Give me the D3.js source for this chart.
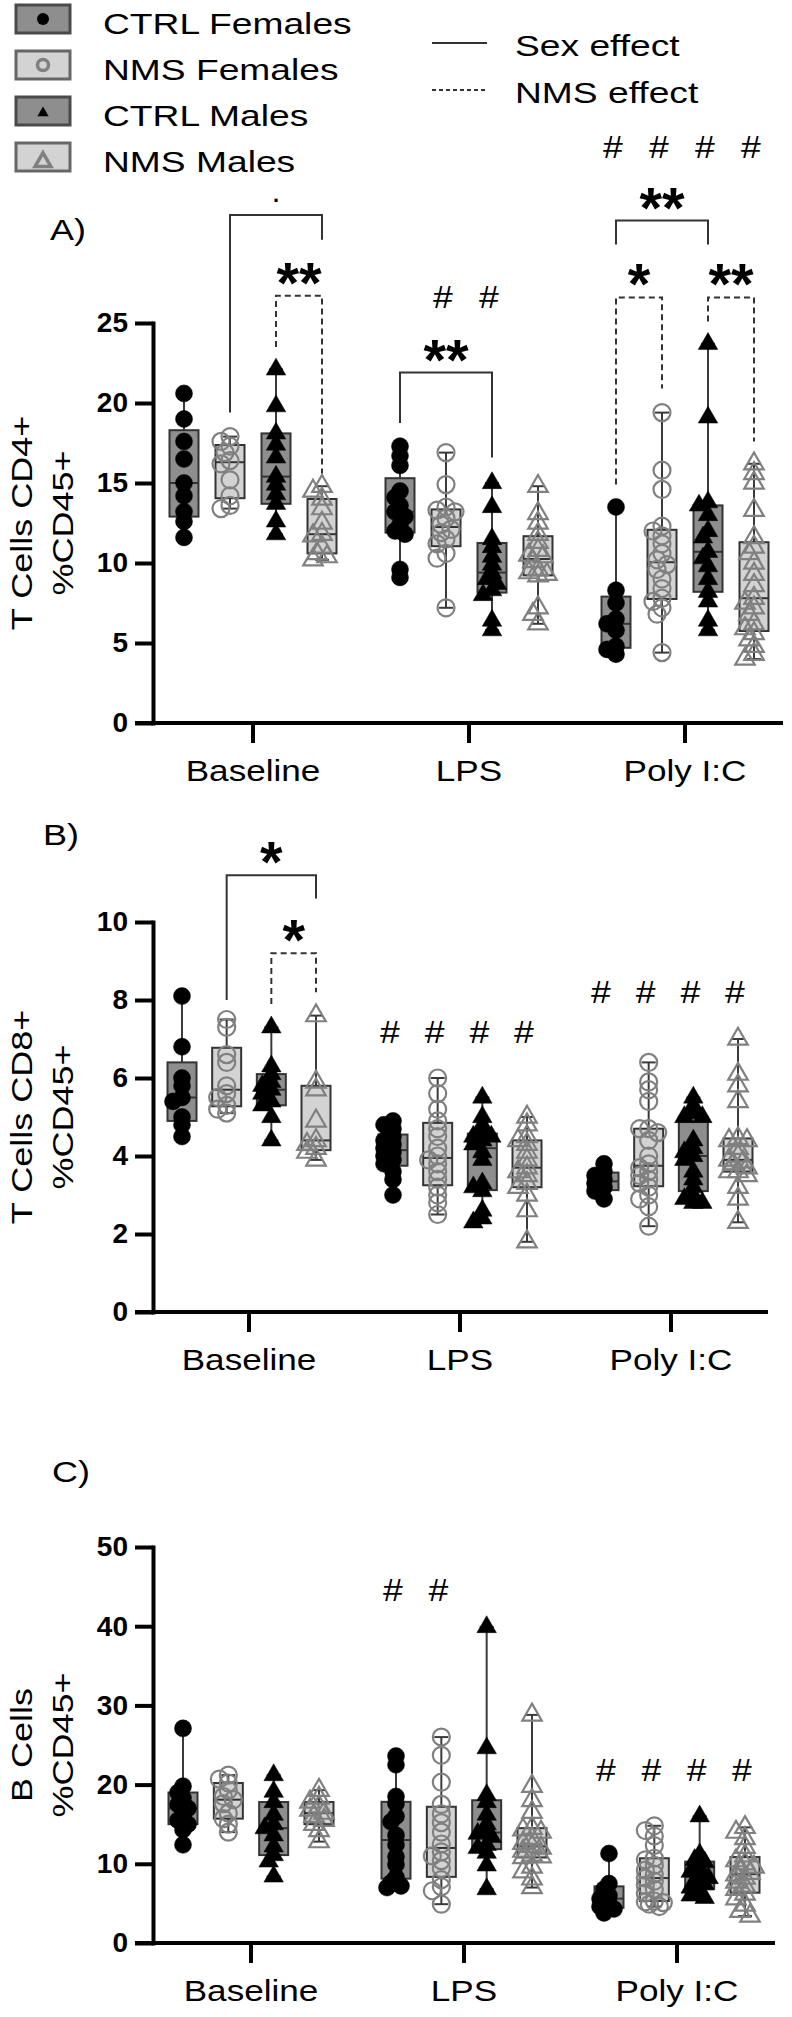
<!DOCTYPE html>
<html>
<head>
<meta charset="utf-8">
<script src="https://cdn.jsdelivr.net/npm/d3@7"></script>
<style>
  body { margin: 0; background: #fff; }
  svg { display: block; font-family: "Liberation Sans", Arial, sans-serif; }
</style>
</head>
<body>
<svg id="chart"></svg>
<script>
var categories = ["Baseline", "LPS", "Poly I:C"];
var groups = ["CTRL Females", "NMS Females", "CTRL Males", "NMS Males"];

// A) T cells CD4+ (%CD45+), one array per group: CTRL F, NMS F, CTRL M, NMS M
var cd4Baseline = [
  [20.6, 19.0, 17.6, 16.5, 15.0, 14.2, 13.2, 12.6, 11.6],
  [17.9, 17.6, 17.3, 16.9, 16.4, 16.2, 15.2, 14.2, 13.6, 13.4],
  [22.1, 19.8, 18.1, 17.4, 16.6, 15.4, 14.9, 14.3, 13.7, 12.6, 11.8],
  [14.8, 14.5, 14.0, 13.4, 12.5, 11.8, 11.7, 11.0, 10.6, 10.4, 10.2]
];
var cd4LPS = [
  [17.3, 16.7, 16.1, 14.5, 14.1, 13.6, 13.2, 12.9, 12.4, 12.0, 11.8, 9.6, 9.1],
  [16.9, 14.9, 13.5, 13.3, 13.2, 12.8, 12.4, 12.1, 11.9, 11.5, 11.2, 10.6, 10.3, 7.2],
  [15.0, 13.5, 11.5, 11.0, 10.4, 9.9, 9.4, 9.0, 8.7, 8.3, 8.0, 6.4, 5.8],
  [14.8, 13.1, 12.5, 11.8, 11.3, 10.8, 10.5, 10.4, 10.1, 9.6, 9.4, 9.3, 9.2, 7.2, 6.8, 6.2]
];
var cd4PolyIC = [
  [13.5, 8.3, 7.5, 6.5, 6.2, 5.8, 4.8, 4.6, 4.3],
  [19.4, 15.8, 14.6, 12.3, 12.0, 11.7, 11.2, 10.6, 10.2, 9.9, 9.6, 9.0, 8.4, 7.8, 7.6, 7.2, 6.8, 4.4],
  [23.7, 19.1, 13.8, 13.6, 13.0, 12.0, 11.6, 10.7, 10.3, 9.8, 9.0, 8.2, 7.6, 6.4, 5.8],
  [16.2, 15.6, 15.0, 13.3, 11.6, 11.0, 10.6, 10.0, 9.3, 8.6, 7.8, 7.5, 7.2, 6.8, 6.2, 5.9, 5.6, 5.2, 4.8, 4.3, 4.0]
];

// B) T cells CD8+ (%CD45+)
var cd8Baseline = [
  [8.1, 6.8, 6.0, 5.8, 5.5, 5.4, 5.0, 4.8, 4.5],
  [7.5, 7.3, 6.6, 6.4, 5.8, 5.6, 5.5, 5.3, 5.2, 5.1],
  [7.3, 6.3, 6.1, 5.9, 5.8, 5.7, 5.6, 5.4, 5.3, 5.0, 4.4],
  [7.6, 5.9, 5.7, 4.9, 4.4, 4.3, 4.2, 4.1, 3.9]
];
var cd8LPS = [
  [4.9, 4.8, 4.7, 4.5, 4.4, 4.3, 4.2, 4.1, 4.0, 3.9, 3.8, 3.6, 3.4, 3.0],
  [6.0, 5.6, 5.2, 4.9, 4.7, 4.5, 4.2, 4.0, 3.9, 3.8, 3.6, 3.4, 3.2, 3.0, 2.8, 2.5],
  [5.5, 5.0, 4.8, 4.6, 4.5, 4.5, 4.4, 4.3, 4.1, 3.9, 3.3, 3.2, 3.1, 2.6, 2.4, 2.3],
  [5.0, 4.8, 4.5, 4.4, 4.3, 4.1, 3.9, 3.7, 3.6, 3.5, 3.3, 3.2, 3.0, 2.6, 1.8]
];
var cd8PolyIC = [
  [3.8, 3.6, 3.5, 3.4, 3.3, 3.2, 3.1, 2.9],
  [6.4, 5.9, 5.7, 5.4, 4.7, 4.7, 4.6, 4.4, 4.0, 3.8, 3.7, 3.6, 3.5, 3.4, 3.3, 3.2, 3.0, 2.9, 2.7, 2.2],
  [5.5, 5.3, 5.1, 5.0, 5.0, 4.4, 4.2, 4.1, 4.0, 3.9, 3.6, 3.4, 3.2, 3.0, 2.9, 2.8, 2.8],
  [7.0, 6.1, 5.8, 5.4, 4.45, 4.4, 4.4, 4.2, 4.0, 3.9, 3.85, 3.8, 3.7, 3.6, 3.6, 3.5, 3.2, 2.9, 2.3]
];

// C) B cells (%CD45+)
var bBaseline = [
  [27.1, 19.8, 19.0, 18.3, 17.5, 17.0, 16.2, 15.5, 15.0, 14.3, 12.4],
  [21.2, 20.7, 20.2, 19.3, 18.5, 18.1, 17.6, 16.4, 15.7, 15.0, 14.0],
  [21.2, 19.1, 17.8, 16.2, 15.0, 14.5, 13.6, 12.2, 11.1, 10.3, 8.4],
  [19.3, 18.3, 17.8, 17.2, 16.8, 16.4, 16.0, 15.5, 15.0, 14.2, 12.8]
];
var bLPS = [
  [23.6, 22.5, 18.5, 17.6, 16.0, 15.3, 13.6, 12.4, 10.9, 9.9, 8.3, 7.6, 7.2, 7.0],
  [26.0, 23.7, 20.3, 17.5, 16.3, 15.2, 14.0, 12.5, 11.5, 11.0, 10.4, 9.4, 8.0, 7.1, 6.6, 4.9],
  [39.9, 24.6, 18.7, 17.8, 16.2, 15.0, 14.1, 13.8, 13.4, 12.4, 12.0, 11.4, 9.8, 6.8],
  [28.8, 19.8, 18.0, 16.5, 14.5, 14.3, 14.0, 13.2, 12.6, 12.2, 12.0, 11.6, 11.1, 10.9, 10.8, 9.6, 9.0, 8.1, 7.0]
];
var bPolyIC = [
  [11.3, 7.5, 6.8, 6.0, 5.6, 5.0, 4.6, 4.3, 3.8],
  [14.8, 14.2, 13.5, 12.3, 10.7, 10.5, 9.8, 9.2, 8.7, 8.2, 7.8, 7.3, 6.8, 6.3, 5.3, 5.2, 5.1, 4.9, 4.6],
  [16.0, 11.2, 10.5, 10.2, 9.5, 9.0, 8.6, 8.2, 7.8, 7.4, 7.0, 6.5, 6.0, 5.7],
  [14.6, 14.0, 13.2, 12.1, 11.0, 10.4, 10.0, 9.6, 9.2, 8.8, 8.6, 8.2, 7.7, 7.2, 6.8, 6.2, 5.6, 4.8, 4.0, 3.4]
];

var yTicksA = [0, 5, 10, 15, 20, 25];
var yTicksB = [0, 2, 4, 6, 8, 10];
var yTicksC = [0, 10, 20, 30, 40, 50];

// significance brackets (group indexes, heights in data units)
var sigA = [
  { cat: "Baseline", from: 1, to: 3, top: 31.75, left: 19.4, right: 30.2, dashed: false, label: "." },
  { cat: "Baseline", from: 2, to: 3, top: 26.7, left: 23.5, right: 15.6, dashed: true, label: "**" },
  { cat: "LPS", from: 0, to: 2, top: 21.9, left: 18.75, right: 16.6, dashed: false, label: "**" },
  { cat: "Poly I:C", from: 0, to: 2, top: 31.4, left: 29.9, right: 29.9, dashed: false, label: "**" },
  { cat: "Poly I:C", from: 0, to: 1, top: 26.6, left: 14.9, right: 20.9, dashed: true, label: "*" },
  { cat: "Poly I:C", from: 2, to: 3, top: 26.6, left: 25.1, right: 17.6, dashed: true, label: "**" }
];
var sigB = [
  { cat: "Baseline", from: 1, to: 3, top: 11.2, left: 8.0, right: 10.6, dashed: false, label: "*" },
  { cat: "Baseline", from: 2, to: 3, top: 9.2, left: 7.9, right: 8.2, dashed: true, label: "*" }
];
var sigC = [];

// "#" marks (vs baseline)
var hashA = [{ cat: "LPS", idx: [1, 2], at: 26.6 }, { cat: "Poly I:C", idx: [0, 1, 2, 3], at: 36 }];
var hashB = [{ cat: "LPS", idx: [0, 1, 2, 3], at: 7.18 }, { cat: "Poly I:C", idx: [0, 1, 2, 3], at: 8.2 }];
var hashC = [{ cat: "LPS", idx: [0, 1], at: 44.6 }, { cat: "Poly I:C", idx: [0, 1, 2, 3], at: 21.8 }];

var W = 792, H = 2017;
var boxFill = ["#8e8e8e", "#d3d3d3", "#8e8e8e", "#d3d3d3"];
var markFill = ["#000", "none", "#000", "none"];
var markStroke = ["#000", "#808080", "#000", "#808080"];

var panels = [
  { letter: "A)", letterX: 50, letterY: 240, title: ["T Cells CD4+", "%CD45+"],
    data: [cd4Baseline, cd4LPS, cd4PolyIC], ticks: yTicksA, ymax: 25,
    yRange: [723, 323], xRange: [145, 793], off: 69, axisEnd: 783, sig: sigA, hash: hashA },
  { letter: "B)", letterX: 43, letterY: 845, title: ["T Cells CD8+", "%CD45+"],
    data: [cd8Baseline, cd8LPS, cd8PolyIC], ticks: yTicksB, ymax: 10,
    yRange: [1312, 922], xRange: [143.5, 776.5], off: 67, axisEnd: 768, sig: sigB, hash: hashB },
  { letter: "C)", letterX: 52, letterY: 1482, title: ["B Cells", "%CD45+"],
    data: [bBaseline, bLPS, bPolyIC], ticks: yTicksC, ymax: 50,
    yRange: [1943, 1547], xRange: [144.5, 783.5], off: 68, axisEnd: 775, sig: sigC, hash: hashC }
];

var axisX = 153, tickLen = 18, boxW = 29, capW = 14, r = 8.5;
var wide = 1.2; // the figure's text runs wide

var svg = d3.select("#chart").attr("width", W).attr("height", H);
svg.append("rect").attr("width", W).attr("height", H).attr("fill", "#fff");

// quartiles the way Prism does them: position (n+1)p
function quant(sorted, p) {
  var h = (sorted.length + 1) * p - 1;
  h = Math.max(0, Math.min(sorted.length - 1, h));
  var lo = Math.floor(h), hi = Math.min(lo + 1, sorted.length - 1);
  return sorted[lo] + (h - lo) * (sorted[hi] - sorted[lo]);
}

// keep points in a narrow column, nudging overlapping ones sideways
function swarm(vals, y) {
  var placed = [];
  return vals.map(function(v) {
    var py = y(v), cands = [0, -5, 5, -9, 9], best = 0, bestD = -1;
    for (var i = 0; i < cands.length; i++) {
      var d = Infinity;
      placed.forEach(function(p) { d = Math.min(d, Math.hypot(p.dx - cands[i], p.py - py)); });
      if (d >= 7) { best = cands[i]; break; }
      if (d > bestD) { bestD = d; best = cands[i]; }
    }
    placed.push({ dx: best, py: py });
    return { v: v, dx: best };
  });
}

function wideText(parent, x, y, size, str, sx) {
  return parent.append("text")
    .attr("transform", "translate(" + x + "," + y + ") scale(" + (sx || wide) + ",1)")
    .attr("font-size", size).text(str);
}

var triangle = d3.symbol(d3.symbolTriangle, 165);

function marker(sel, gi) {
  var m = gi < 2 ? sel.append("circle").attr("r", r) : sel.append("path").attr("d", triangle());
  m.attr("fill", markFill[gi]).attr("stroke", markStroke[gi])
   .attr("stroke-width", gi % 2 === 1 ? 2.2 : 0.5);
  return m;
}

panels.forEach(function(P) {
  var y = d3.scaleLinear().domain([0, P.ymax]).range(P.yRange);
  var x = d3.scaleBand().domain(categories).range(P.xRange);
  var sub = d3.scalePoint().domain(d3.range(groups.length)).range([-P.off, P.off]);
  var cx = function(cat, gi) { return x(cat) + x.bandwidth() / 2 + sub(gi); };
  var g = svg.append("g");

  // panel letter and y title
  wideText(g, P.letterX, P.letterY, 30, P.letter);
  var midY = (P.yRange[0] + P.yRange[1]) / 2;
  P.title.forEach(function(t, i) {
    g.append("text")
      .attr("transform", "translate(" + (22 + i * 41) + "," + midY + ") rotate(-90) scale(" + wide + ",1)")
      .attr("text-anchor", "middle").attr("dominant-baseline", "central")
      .attr("font-size", 30).text(t);
  });

  // boxes, whiskers, points
  categories.forEach(function(cat, ci) {
    P.data[ci].forEach(function(vals, gi) {
      var s = vals.slice().sort(d3.ascending);
      var q1 = quant(s, 0.25), med = quant(s, 0.5), q3 = quant(s, 0.75);
      var lo = s[0], hi = s[s.length - 1];
      var c = cx(cat, gi);
      var bg = g.append("g");
      bg.append("line").attr("x1", c).attr("x2", c).attr("y1", y(hi)).attr("y2", y(lo))
        .attr("stroke", "#3a3a3a").attr("stroke-width", 2);
      [lo, hi].forEach(function(v) {
        bg.append("line").attr("x1", c - capW / 2).attr("x2", c + capW / 2)
          .attr("y1", y(v)).attr("y2", y(v)).attr("stroke", "#3a3a3a").attr("stroke-width", 2);
      });
      bg.append("rect").attr("x", c - boxW / 2).attr("width", boxW)
        .attr("y", y(q3)).attr("height", y(q1) - y(q3))
        .attr("fill", boxFill[gi]).attr("stroke", "#333").attr("stroke-width", 2);
      bg.append("line").attr("x1", c - boxW / 2).attr("x2", c + boxW / 2)
        .attr("y1", y(med)).attr("y2", y(med)).attr("stroke", "#333").attr("stroke-width", 2);

      swarm(vals, y).forEach(function(p) {
        marker(bg.append("g").attr("transform", "translate(" + (c + p.dx) + "," + y(p.v) + ")"), gi);
      });
    });
  });

  // y axis
  var yAxis = g.append("g").attr("transform", "translate(" + axisX + ",0)")
    .call(d3.axisLeft(y).tickValues(P.ticks).tickSize(tickLen).tickSizeOuter(0).tickPadding(7));
  yAxis.select(".domain").attr("stroke-width", 4).attr("stroke-linecap", "square");
  yAxis.selectAll(".tick line").attr("stroke-width", 4);
  yAxis.selectAll(".tick text").attr("font-size", 28).attr("font-weight", "bold")
    .attr("font-family", "'Liberation Sans', Arial, sans-serif").attr("fill", "#000");

  // x axis
  g.append("line").attr("x1", axisX - tickLen).attr("x2", P.axisEnd)
    .attr("y1", y(0)).attr("y2", y(0)).attr("stroke", "#000").attr("stroke-width", 4);
  var xAxis = g.append("g").attr("transform", "translate(0," + y(0) + ")")
    .call(d3.axisBottom(x).tickSize(20).tickSizeOuter(0).tickPadding(17));
  xAxis.select(".domain").remove();
  xAxis.selectAll(".tick line").attr("stroke-width", 4);
  xAxis.selectAll(".tick text").attr("font-size", 30).attr("transform", "scale(1.17,1)")
    .attr("font-family", "'Liberation Sans', Arial, sans-serif").attr("fill", "#000");

  // significance brackets
  P.sig.forEach(function(s) {
    var xa = cx(s.cat, s.from), xb = cx(s.cat, s.to), yt = y(s.top);
    g.append("path")
      .attr("d", "M" + xa + "," + y(s.left) + "V" + yt + "H" + xb + "V" + y(s.right))
      .attr("fill", "none").attr("stroke", "#333").attr("stroke-width", 2)
      .attr("stroke-dasharray", s.dashed ? "6,4" : null);
    var t = g.append("text").attr("x", (xa + xb) / 2).attr("text-anchor", "middle")
      .attr("font-weight", "bold").text(s.label);
    if (s.label === ".") t.attr("y", yt - 13).attr("font-size", 22);
    else t.attr("y", yt + 7).attr("font-size", 58);
  });

  // hash marks
  P.hash.forEach(function(h) {
    h.idx.forEach(function(gi) {
      wideText(g, cx(h.cat, gi) - 3, y(h.at) + 11, 31, "#", 1.15).attr("text-anchor", "middle");
    });
  });
});

// legend
var leg = svg.append("g");
groups.forEach(function(name, gi) {
  var top = 5 + gi * 46;
  leg.append("rect").attr("x", 16).attr("y", top).attr("width", 54).attr("height", 28)
    .attr("fill", boxFill[gi]).attr("stroke", gi % 2 ? "#666" : "#4a4a4a").attr("stroke-width", 3);
  var mg = leg.append("g");
  if (gi === 0) mg.append("circle").attr("cx", 43).attr("cy", top + 14).attr("r", 6).attr("fill", "#000");
  if (gi === 1) mg.append("circle").attr("cx", 43).attr("cy", top + 14).attr("r", 5.5)
    .attr("fill", "none").attr("stroke", "#808080").attr("stroke-width", 3.5);
  if (gi === 2) mg.append("path").attr("transform", "translate(43," + (top + 16) + ")")
    .attr("d", d3.symbol(d3.symbolTriangle, 55)()).attr("fill", "#000");
  if (gi === 3) mg.append("path").attr("transform", "translate(43," + (top + 19) + ")")
    .attr("d", d3.symbol(d3.symbolTriangle, 110)()).attr("fill", "none")
    .attr("stroke", "#808080").attr("stroke-width", 3.5);
  wideText(leg, 103, top + 29, 30, name, 1.24);
});
var effects = [{ name: "Sex effect", dashed: false }, { name: "NMS effect", dashed: true }];
effects.forEach(function(e, i) {
  var yy = 43 + i * 47;
  leg.append("line").attr("x1", 432).attr("x2", 487).attr("y1", yy).attr("y2", yy)
    .attr("stroke", "#333").attr("stroke-width", 2)
    .attr("stroke-dasharray", e.dashed ? "4,3" : null);
  wideText(leg, 515, yy + 13, 30, e.name, 1.24);
});
</script>
</body>
</html>
